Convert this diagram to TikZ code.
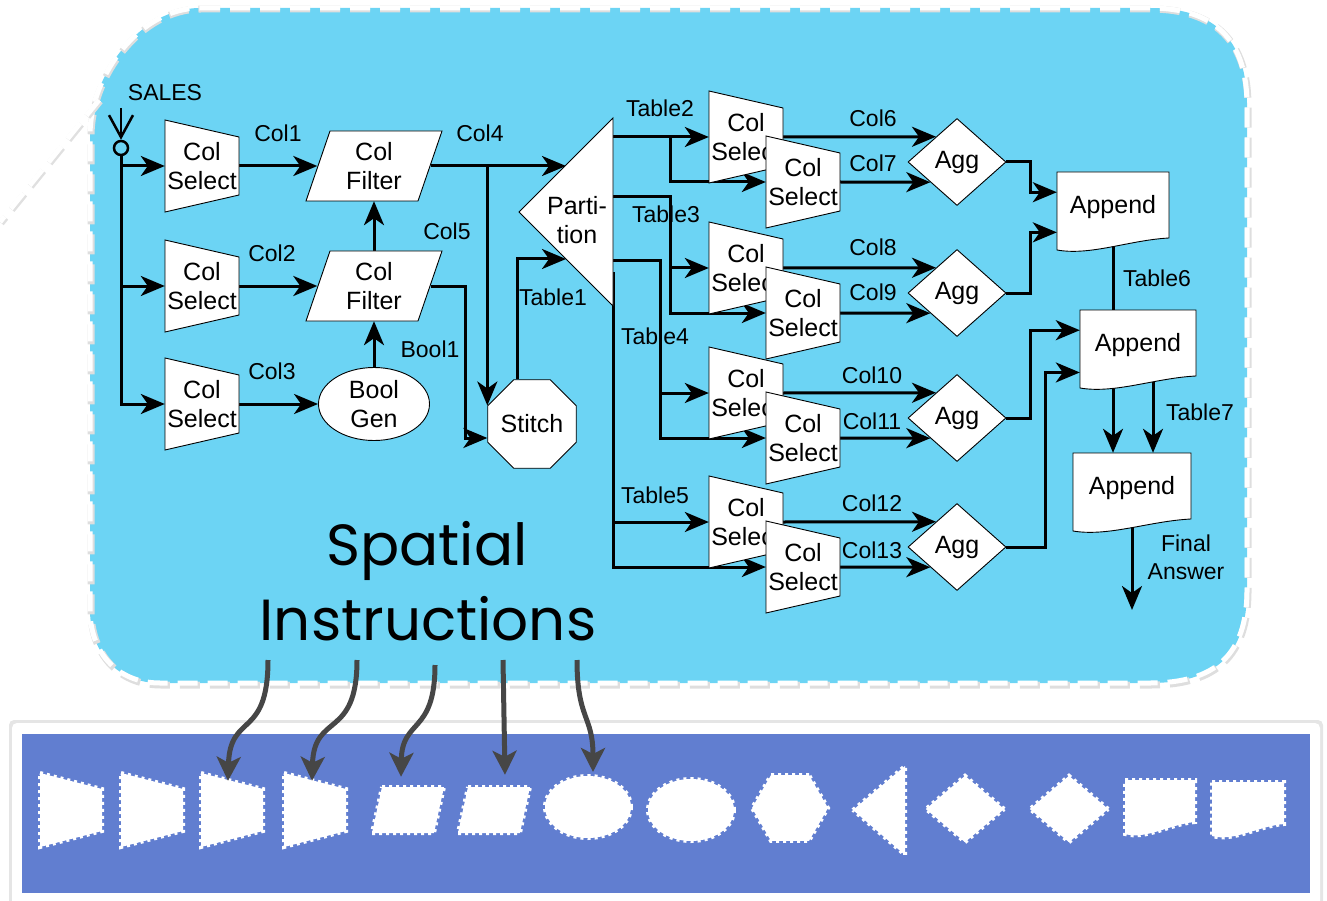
\documentclass[tikz,border=0pt]{standalone}
\usepackage{fontspec}
\setmainfont{Liberation Sans}
\newfontfamily\geofont{Poppins}
\usetikzlibrary{positioning, arrows.meta, shapes.geometric, calc}
\pgfdeclarelayer{back}
\pgfdeclarelayer{front}
\pgfsetlayers{back,main,front}

\definecolor{regionblue}{RGB}{108,212,244}
\definecolor{panelblue}{RGB}{97,126,208}
\definecolor{pointergrey}{RGB}{70,70,70}

\newcommand\nodefont{\fontsize{25}{29}\selectfont}
\newcommand\lblfont{\fontsize{23}{28}\selectfont}
\newcommand\bigfont{\geofont\fontsize{58}{72}\selectfont}

% trapezoid: style, centre, half width, left half height, right half height
\newcommand\trapo[5]{\path[#1] ($#2+(-#3,-#4)$) -- ($#2+(#3,-#5)$) -- ($#2+(#3,#5)$) -- ($#2+(-#3,#4)$) -- cycle;}
% parallelogram: style, centre, half width, half height, slant
\newcommand\para[5]{\path[#1] ($#2+(-#3+#5,-#4)$) -- ($#2+(#3+#5,-#4)$) -- ($#2+(#3-#5,#4)$) -- ($#2+(-#3-#5,#4)$) -- cycle;}
% document sheet: style, centre, half width, half height
\newcommand\docu[4]{\path[#1] ($#2+(-#3,-#4)$) -- ($#2+(#3,-#4)$) -- ($#2+(#3,#4-4)$) .. controls ($#2+(0.3*#3,#4-2)$) and ($#2+(-0.4*#3,#4+14)$) .. ($#2+(-#3,#4+8)$) -- cycle;}

\begin{document}
\begin{tikzpicture}[
        x=1pt, y=-1pt,
        outline/.style={draw=black, fill=white, line width=0.9pt},
        selbox/.style={inner sep=0pt, minimum width=74pt, minimum height=92pt, align=center, font=\nodefont},
        filt/.style={inner sep=0pt, minimum width=113pt, minimum height=70pt, align=center, font=\nodefont},
        gen/.style={ellipse, outline, minimum width=111pt, minimum height=73pt, inner sep=0pt, align=center, font=\nodefont},
        joiner/.style={regular polygon, regular polygon sides=8, outline, minimum size=92pt, inner sep=0pt, font=\nodefont},
        aggr/.style={diamond, outline, minimum width=98pt, minimum height=87pt, inner sep=0pt, font=\nodefont},
        docbox/.style={inner sep=0pt, font=\nodefont},
        lbl/.style={inner sep=0pt, font=\lblfont, align=center},
        wire/.style={line width=3pt},
        flow/.style={line width=3pt, -{Stealth[length=24pt, width=20pt, inset=7pt]}},
        stamp/.style={fill=white, draw=white, line width=4pt, dash pattern=on 3pt off 4pt},
        hold/.style={inner sep=0pt},
        rim/.style={line width=5pt, dash pattern=on 20pt off 10pt},
        pointer/.style={draw=pointergrey, line width=5pt, -{Stealth[length=24pt, width=24pt, inset=6pt]}}
    ]
    \useasboundingbox (0,0) rectangle (1327,901);

    % Backdrop: blue region and the shape panel
    \begin{pgfonlayer}{back}
        \fill[black!10, rounded corners=5pt] (9,720) rectangle (1323,910);
        \fill[white, rounded corners=5pt] (12,723) rectangle (1320,910);
        \fill[panelblue] (22,734) rectangle (1310,893);
        \fill[regionblue] (200,8) -- (1150,8) .. controls (1215,8) and (1247,40) .. (1247,105) -- (1247,590)
            .. controls (1247,655) and (1215,683) .. (1150,683) -- (160,683) .. controls (115,683) and (90,650) .. (90,610)
            -- (90,135) .. controls (90,75) and (140,8) .. (200,8) -- cycle;
        \draw[rim, black!13, line width=7pt] (200,9) -- (1150,9) .. controls (1215,9) and (1248,41) .. (1248,106) -- (1248,591)
            .. controls (1248,656) and (1216,685) .. (1151,685) -- (161,685) .. controls (116,685) and (91,651) .. (91,611)
            -- (91,136) .. controls (91,76) and (141,9) .. (201,9);
        \draw[rim, white] (200,8) -- (1150,8) .. controls (1215,8) and (1247,40) .. (1247,105) -- (1247,590)
            .. controls (1247,655) and (1215,683) .. (1150,683) -- (160,683) .. controls (115,683) and (90,650) .. (90,610)
            -- (90,135) .. controls (90,75) and (140,8) .. (200,8);
        \draw[rim, black!12, line width=7pt] (100,101) -- (1,223);
        \draw[rim, white] (99,100) -- (0,222);
    \end{pgfonlayer}

    % Operators
    \begin{pgfonlayer}{front}
        \node[circle, draw, line width=2.5pt, minimum size=14pt, inner sep=0pt] (tap) at (121,148) {};

        \trapo{outline}{(202,166)}{37}{46}{29}
        \node[selbox] (cs1) at (202,166) {Col\\Select};
        \trapo{outline}{(202,286)}{37}{46}{29}
        \node[selbox] (cs2) at (202,286) {Col\\Select};
        \trapo{outline}{(202,404)}{37}{46}{29}
        \node[selbox] (cs3) at (202,404) {Col\\Select};

        \para{outline}{(374,166)}{56}{35}{12}
        \node[filt] (cf1) at (374,166) {Col\\Filter};
        \para{outline}{(374,286)}{56}{35}{12}
        \node[filt] (cf2) at (374,286) {Col\\Filter};
        \node[gen] (bgen) at (374,404) {Bool\\Gen};

        \node[joiner] (stitch) at (532,424) {Stitch};

        \coordinate (ptip) at (519,212);
        \coordinate (ptop) at (613,118);
        \coordinate (pbot) at (613,306);
        \filldraw[outline] (ptip) -- (ptop) -- (pbot) -- cycle;
        \node[selbox, minimum width=60pt] (part) at (577,220) {Parti-\\tion};

        \trapo{outline}{(746,137)}{37}{46}{29}
        \node[selbox] (csa1) at (746,137) {Col\\Select};
        \trapo{outline}{(803,182)}{37}{46}{29}
        \node[selbox] (csb1) at (803,182) {Col\\Select};
        \trapo{outline}{(746,268)}{37}{46}{29}
        \node[selbox] (csa2) at (746,268) {Col\\Select};
        \trapo{outline}{(803,313)}{37}{46}{29}
        \node[selbox] (csb2) at (803,313) {Col\\Select};
        \trapo{outline}{(746,393)}{37}{46}{29}
        \node[selbox] (csa3) at (746,393) {Col\\Select};
        \trapo{outline}{(803,438)}{37}{46}{29}
        \node[selbox] (csb3) at (803,438) {Col\\Select};
        \trapo{outline}{(746,522)}{37}{46}{29}
        \node[selbox] (csa4) at (746,522) {Col\\Select};
        \trapo{outline}{(803,567)}{37}{46}{29}
        \node[selbox] (csb4) at (803,567) {Col\\Select};

        \node[aggr] (agg1) at (957,162) {Agg};
        \node[aggr] (agg2) at (957,293) {Agg};
        \node[aggr] (agg3) at (957,418) {Agg};
        \node[aggr] (agg4) at (957,547) {Agg};

        \docu{outline}{(1113,207)}{56}{35}
        \node[docbox, minimum width=112pt, minimum height=70pt] (app1) at (1113,207) {Append};
        \docu{outline}{(1138,345)}{58}{35}
        \node[docbox, minimum width=116pt, minimum height=70pt] (app2) at (1138,345) {Append};
        \docu{outline}{(1132,488)}{59}{35}
        \node[docbox, minimum width=118pt, minimum height=70pt] (app3) at (1132,488) {Append};
    \end{pgfonlayer}

    % Input
    \coordinate (src) at (121,108);
    \draw[line width=2.5pt, -{Straight Barb[length=22pt, width=24pt]}] (src) -- (tap.north);
    \draw[flow] (tap.south) |- (cs3.west);
    \draw[flow] (tap.south |- cs1.west) -- (cs1.west);
    \draw[flow] (tap.south |- cs2.west) -- (cs2.west);

    % Filtering
    \draw[flow] (cs1.east) -- (cf1.west);
    \draw[flow] (cs2.east) -- (cf2.west);
    \draw[flow] (cs3.east) -- (bgen.west);
    \draw[flow] (bgen.north) -- (cf2.south);
    \draw[flow] (cf2.north) -- (cf1.south);

    % Into partition and stitch
    \coordinate (pin1) at ($(ptip)!0.5!(ptop)$);
    \coordinate (pin2) at ($(ptip)!0.5!(pbot)$);
    \draw[flow] (cf1.east) -- (cf1.east -| pin1);
    \draw[flow] (cf1.east -| stitch.corner 3) -- (stitch.corner 3);
    \draw[flow] (cf2.east) -- ++(35,0) |- ([yshift=-14pt]stitch.west);
    \draw[flow] ([xshift=-15pt]stitch.north) |- (pin2);

    % Partition outputs
    \coordinate (p3) at ($(ptop)!0.42!(pbot)$);
    \coordinate (p4) at ($(ptop)!0.76!(pbot)$);
    \coordinate (p5) at ($(ptop)!0.82!(pbot)$);
    \coordinate (bus2) at ($(ptop)+(57,0)$);
    \coordinate (bus4) at ($(ptop)+(47,0)$);
    \draw[flow] (ptop |- csa1.west) -- (csa1.west);
    \draw[flow] (bus2 |- csa1.west) |- (csb1.west);
    \draw[flow] (p3) -| (bus2 |- csb2.west) -- (csb2.west);
    \draw[flow] (bus2 |- csa2.west) -- (csa2.west);
    \draw[flow] (p4) -| (bus4 |- csb3.west) -- (csb3.west);
    \draw[flow] (bus4 |- csa3.west) -- (csa3.west);
    \draw[flow] (p5) |- (csb4.west);
    \draw[flow] (p5 |- csa4.west) -- (csa4.west);

    % Columns to aggregates
    \draw[flow] (csa1.east) -- ($(agg1.west)!0.575!(agg1.north)$);
    \draw[flow] (csb1.east) -- ($(agg1.west)!0.46!(agg1.south)$);
    \draw[flow] (csa2.east) -- ($(agg2.west)!0.575!(agg2.north)$);
    \draw[flow] (csb2.east) -- ($(agg2.west)!0.46!(agg2.south)$);
    \draw[flow] (csa3.east) -- ($(agg3.west)!0.575!(agg3.north)$);
    \draw[flow] (csb3.east) -- ($(agg3.west)!0.46!(agg3.south)$);
    \draw[flow] (csa4.east) -- ($(agg4.west)!0.575!(agg4.north)$);
    \draw[flow] (csb4.east) -- ($(agg4.west)!0.46!(agg4.south)$);

    % Aggregates to appends
    \draw[flow] (agg1.east) -- ++(24,0) |- ($(app1.north west)!0.29!(app1.south west)$);
    \draw[flow] (agg2.east) -- ++(24,0) |- ($(app1.north west)!0.86!(app1.south west)$);
    \draw[flow] (agg3.east) -- ++(24,0) |- ($(app2.north west)!0.29!(app2.south west)$);
    \draw[flow] (agg4.east) -- ++(39,0) |- ($(app2.north west)!0.89!(app2.south west)$);
    \draw[wire] (app1.south) -- (app1.south |- app2.north);
    \draw[flow] ([xshift=-25pt]app2.south) -- ([xshift=-25pt]app2.south |- app3.north);
    \draw[flow] ([xshift=15pt]app2.south) -- ([xshift=15pt]app2.south |- app3.north);
    \coordinate (final) at (1132,610);
    \draw[flow] (app3.south) -- (final);

    % Labels
    \node[lbl] (lsales) at (165,93) {SALES};
    \node[lbl] (lc1) at (278,133) {Col1};
    \node[lbl] (lc2) at (272,253) {Col2};
    \node[lbl] (lc3) at (272,371) {Col3};
    \node[lbl] (lc4) at (480,133) {Col4};
    \node[lbl] (lc5) at (447,231) {Col5};
    \node[lbl] (lb1) at (430,349) {Bool1};
    \node[lbl] (lt1) at (553,297) {Table1};
    \node[lbl] (lt2) at (660,108) {Table2};
    \node[lbl] (lt3) at (666,214) {Table3};
    \node[lbl] (lt4) at (655,336) {Table4};
    \node[lbl] (lt5) at (655,495) {Table5};
    \node[lbl] (lc6) at (873,118) {Col6};
    \node[lbl] (lc7) at (873,163) {Col7};
    \node[lbl] (lc8) at (873,247) {Col8};
    \node[lbl] (lc9) at (873,292) {Col9};
    \node[lbl] (lc10) at (872,375) {Col10};
    \node[lbl] (lc11) at (872,421) {Col11};
    \node[lbl] (lc12) at (872,503) {Col12};
    \node[lbl] (lc13) at (872,550) {Col13};
    \node[lbl] (lt6) at (1157,278) {Table6};
    \node[lbl] (lt7) at (1200,412) {Table7};
    \node[lbl] (lfin) at (1186,557) {Final\\Answer};

    \node[anchor=base, font=\bigfont, inner sep=0pt] (sp1) at (427,565) {Spatial};
    \node[anchor=base, font=\bigfont, inner sep=0pt] (sp2) at (428,640) {Instructions};

    % Shape catalogue
    \trapo{stamp}{(71,810)}{31}{37}{21}
    \trapo{stamp}{(152,810)}{31}{37}{21}
    \trapo{stamp}{(232,810)}{31}{37}{21}
    \node[hold, minimum width=62pt, minimum height=74pt] (sh3) at (232,810) {};
    \trapo{stamp}{(315,810)}{31}{37}{21}
    \node[hold, minimum width=62pt, minimum height=74pt] (sh4) at (315,810) {};
    \para{stamp}{(408,810)}{31}{23}{5}
    \node[hold, minimum width=62pt, minimum height=46pt] (sh5) at (408,810) {};
    \para{stamp}{(494,810)}{31}{23}{5}
    \node[hold, minimum width=62pt, minimum height=46pt] (sh6) at (494,810) {};
    \node[stamp, ellipse, minimum width=86pt, minimum height=62pt] (sh7) at (588,807) {};
    \node[stamp, ellipse, minimum width=86pt, minimum height=62pt] (sh8) at (691,810) {};
    \node[stamp, regular polygon, regular polygon sides=6, minimum size=76pt] (sh9) at (790,808) {};
    \path[stamp] (853,810) -- (905,766) -- (905,855) -- cycle;
    \node[stamp, diamond, minimum width=80pt, minimum height=68pt] (sh11) at (965,809) {};
    \node[stamp, diamond, minimum width=80pt, minimum height=68pt] (sh12) at (1069,809) {};
    \docu{stamp}{(1160,803)}{35}{23}
    \docu{stamp}{(1248,805)}{36}{23}

    % Pointers from the instructions
    \coordinate (q1) at (268,660);
    \coordinate (q2) at (357,660);
    \coordinate (q3) at (435,665);
    \coordinate (q4) at (503,660);
    \coordinate (q5) at (577,660);
    \draw[pointer] (q1) .. controls (268,740) and (230,712) .. ([xshift=-4pt, yshift=-8pt]sh3.north);
    \draw[pointer] (q2) .. controls (357,740) and (314,712) .. ([xshift=-3pt, yshift=-8pt]sh4.north);
    \draw[pointer] (q3) .. controls (435,735) and (402,718) .. ([xshift=-7pt, yshift=10pt]sh5.north);
    \draw[pointer] (q4) -- ([xshift=11pt, yshift=12pt]sh6.north);
    \draw[pointer] (q5) .. controls (577,720) and (593,715) .. ([xshift=5pt, yshift=2pt]sh7.north);

\end{tikzpicture}
\end{document}
